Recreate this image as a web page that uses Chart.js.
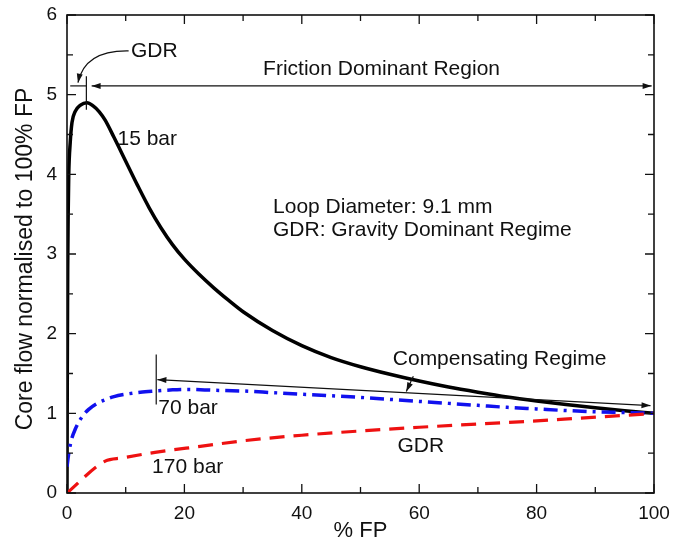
<!DOCTYPE html>
<html>
<head>
<meta charset="utf-8">
<script src="https://cdn.jsdelivr.net/npm/chart.js@4.4.0/dist/chart.umd.min.js"></script>
<style>
  html, body { margin: 0; padding: 0; background: #fff; }
  #wrap { width: 688px; height: 547px; position: relative; }
</style>
</head>
<body>
<div id="wrap"><canvas id="c" width="688" height="547"></canvas></div>
<script>
// Core flow (normalised to 100% FP) versus % FP, loop diameter 9.1 mm
const fp15 = [0, 0.05, 0.12, 0.2, 0.3, 0.55, 0.85, 1.4, 2.3, 3.4, 4.5, 5.5, 6.5, 8, 10, 12, 14, 16, 18, 20, 22.5, 25, 27.5, 30, 35, 40, 45, 50, 55, 60, 65, 70, 75, 80, 85, 90, 95, 100];
const flow15 = [0, 1.5, 2.8, 3.5, 4.0, 4.4, 4.65, 4.79, 4.87, 4.90, 4.855, 4.785, 4.68, 4.465, 4.165, 3.865, 3.58, 3.33, 3.115, 2.935, 2.745, 2.575, 2.42, 2.275, 2.04, 1.85, 1.70, 1.585, 1.49, 1.405, 1.33, 1.265, 1.205, 1.155, 1.11, 1.07, 1.033, 1.0];

const fp70 = [0, 0.3, 0.8, 1.4, 2.5, 3.7, 5, 6.5, 8, 10, 12.5, 15, 18, 20.7, 25, 30, 35, 40, 45, 50, 55, 60, 65, 70, 75, 80, 85, 90, 95, 100];
const flow70 = [0.33, 0.5, 0.68, 0.80, 0.95, 1.05, 1.12, 1.17, 1.21, 1.24, 1.265, 1.28, 1.295, 1.30, 1.29, 1.28, 1.26, 1.24, 1.22, 1.20, 1.175, 1.15, 1.125, 1.10, 1.075, 1.055, 1.035, 1.02, 1.01, 1.0];

const fp170 = [0, 6.5, 9.4, 15, 22.7, 30, 40, 53.4, 60, 70.4, 80, 87.4, 95, 100];
const flow170 = [0, 0.40, 0.44, 0.51, 0.585, 0.655, 0.725, 0.795, 0.825, 0.867, 0.905, 0.94, 0.975, 1.0];

const xTicks = [0, 20, 40, 60, 80, 100];
const yTicks = [0, 1, 2, 3, 4, 5, 6];

const FONT = '"Liberation Sans", Arial, Helvetica, sans-serif';

function pairs(xs, ys) { return xs.map((x, i) => ({ x: x, y: ys[i] })); }

// Box frame with inward major/minor ticks, axis titles and annotations
const decorations = {
  id: 'decorations',
  afterDatasetsDraw(chart) {
    const { ctx, chartArea: a, scales: { x, y } } = chart;
    const X = v => x.getPixelForValue(v);
    const Y = v => y.getPixelForValue(v);
    ctx.save();

    // frame
    ctx.strokeStyle = '#111';
    ctx.lineWidth = 1.6;
    ctx.strokeRect(a.left, a.top, a.right - a.left, a.bottom - a.top);

    // inward ticks on all four sides
    ctx.lineWidth = 1.3;
    ctx.beginPath();
    for (let v = 0; v <= 100; v += 10) {
      const len = v % 20 === 0 ? 9 : 6;
      const px = X(v);
      ctx.moveTo(px, a.bottom); ctx.lineTo(px, a.bottom - len);
      ctx.moveTo(px, a.top); ctx.lineTo(px, a.top + len);
    }
    for (let v = 0; v <= 6; v += 0.5) {
      const len = v % 1 === 0 ? 9 : 6;
      const py = Y(v);
      ctx.moveTo(a.left, py); ctx.lineTo(a.left + len, py);
      ctx.moveTo(a.right, py); ctx.lineTo(a.right - len, py);
    }
    ctx.stroke();

    // axis titles
    ctx.fillStyle = '#111';
    ctx.font = '22px ' + FONT;
    ctx.textAlign = 'center';
    ctx.textBaseline = 'middle';
    ctx.fillText('% FP', X(50), 531);
    ctx.save();
    ctx.translate(26, (a.top + a.bottom) / 2 + 5);
    ctx.rotate(-Math.PI / 2);
    ctx.font = '23px ' + FONT;
    ctx.fillText('Core flow normalised to 100% FP', 0, 0);
    ctx.restore();

    // helpers
    function head(tx, ty, ang) {
      const L = 9, W = 3;
      ctx.beginPath();
      ctx.moveTo(tx, ty);
      ctx.lineTo(tx - L * Math.cos(ang) + W * Math.sin(ang), ty - L * Math.sin(ang) - W * Math.cos(ang));
      ctx.lineTo(tx - L * Math.cos(ang) - W * Math.sin(ang), ty - L * Math.sin(ang) + W * Math.cos(ang));
      ctx.closePath();
      ctx.fill();
    }
    function line(x1, y1, x2, y2) {
      ctx.beginPath(); ctx.moveTo(x1, y1); ctx.lineTo(x2, y2); ctx.stroke();
    }

    ctx.strokeStyle = '#111';
    ctx.fillStyle = '#111';
    ctx.lineWidth = 1.2;

    // gravity / friction boundary near the peak
    const yb = Y(5.11);
    line(X(0.55), yb, X(3.3), yb);
    line(X(3.3), Y(5.23), X(3.3), Y(4.81));
    line(X(4.2), yb, X(99.6), yb);
    head(X(4.2), yb, Math.PI);
    head(X(99.6), yb, 0);

    // curved pointer from the GDR label
    const sx = X(10.5), sy = Y(5.55), ex = X(1.87), ey = Y(5.15);
    const cx = X(3.0), cy = Y(5.56);
    ctx.beginPath();
    ctx.moveTo(sx, sy);
    ctx.quadraticCurveTo(cx, cy, ex, ey);
    ctx.stroke();
    head(ex, ey, Math.atan2(ey - cy, ex - cx));

    // compensating regime span
    line(X(15.2), Y(1.74), X(15.2), Y(1.11));
    const c1x = X(15.4), c1y = Y(1.423), c2x = X(99.4), c2y = Y(1.097);
    line(c1x, c1y, c2x, c2y);
    const ang = Math.atan2(c2y - c1y, c2x - c1x);
    head(c1x, c1y, ang + Math.PI);
    head(c2x, c2y, ang);

    // pointer from the compensating label
    const p1x = X(59.0), p1y = Y(1.465), p2x = X(57.8), p2y = Y(1.275);
    line(p1x, p1y, p2x, p2y);
    head(p2x, p2y, Math.atan2(p2y - p1y, p2x - p1x));

    // labels
    ctx.font = '21px ' + FONT;
    ctx.textAlign = 'left';
    ctx.textBaseline = 'middle';
    ctx.fillText('GDR', X(10.9), Y(5.55));
    ctx.fillText('Friction Dominant Region', X(33.4), Y(5.32));
    ctx.fillText('15 bar', X(8.6), Y(4.44));
    ctx.fillText('Loop Diameter: 9.1 mm', X(35.1), Y(3.59));
    ctx.fillText('GDR: Gravity Dominant Regime', X(35.1), Y(3.30));
    ctx.fillText('Compensating Regime', X(55.5), Y(1.68));
    ctx.fillText('70 bar', X(15.55), Y(1.07));
    ctx.fillText('170 bar', X(14.5), Y(0.33));
    ctx.fillText('GDR', X(56.3), Y(0.585));

    ctx.restore();
  }
};

new Chart(document.getElementById('c'), {
  type: 'line',
  data: {
    datasets: [
      {
        label: '170 bar',
        data: pairs(fp170, flow170),
        borderColor: '#ee1111',
        borderWidth: 3.2,
        borderDash: [15, 9],
        cubicInterpolationMode: 'monotone'
      },
      {
        label: '70 bar',
        data: pairs(fp70, flow70),
        borderColor: '#1111ee',
        borderWidth: 3.5,
        borderDash: [14, 6, 3, 6],
        cubicInterpolationMode: 'monotone'
      },
      {
        label: '15 bar',
        data: pairs(fp15, flow15),
        borderColor: '#000000',
        borderWidth: 3.5,
        cubicInterpolationMode: 'monotone'
      }
    ]
  },
  options: {
    responsive: false,
    animation: false,
    elements: { point: { radius: 0 }, line: { fill: false, borderCapStyle: 'butt' } },
    layout: { padding: { top: 15, right: 34, left: 0, bottom: 0 } },
    plugins: { legend: { display: false }, tooltip: { enabled: false } },
    scales: {
      x: {
        type: 'linear',
        min: 0, max: 100,
        afterFit(s) { s.height = 54; s.paddingLeft = 0; s.paddingRight = 0; },
        afterBuildTicks(s) { s.ticks = xTicks.map(v => ({ value: v })); },
        grid: { display: false, drawTicks: false },
        border: { display: false },
        ticks: { padding: 9, color: '#111', font: { family: FONT, size: 19 } }
      },
      y: {
        type: 'linear',
        min: 0, max: 6,
        afterFit(s) { s.width = 67; s.paddingTop = 0; s.paddingBottom = 0; },
        afterBuildTicks(s) { s.ticks = yTicks.map(v => ({ value: v })); },
        grid: { display: false, drawTicks: false },
        border: { display: false },
        ticks: { padding: 10, color: '#111', font: { family: FONT, size: 19 } }
      }
    }
  },
  plugins: [decorations]
});
</script>
</body>
</html>
